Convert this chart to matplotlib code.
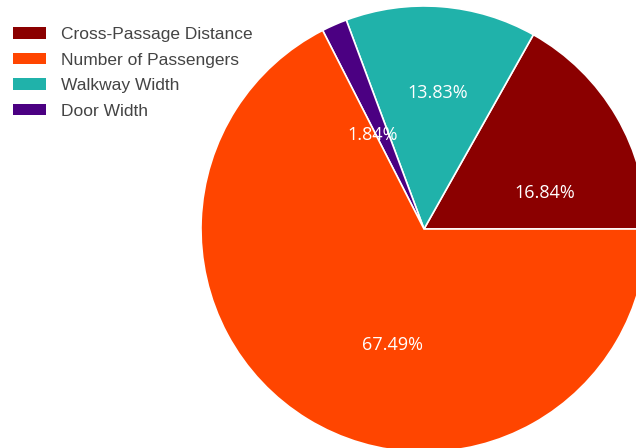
import matplotlib
matplotlib.use('Agg')
import matplotlib.pyplot as plt
from matplotlib.patches import Patch

# 数据
labels = ['Cross-Passage Distance', 'Number of Passengers', 'Walkway Width', 'Door Width']
values = [16.84, 67.49, 13.83, 1.84]
colors = ['#8B0000', '#FF4500', '#20B2AA', '#4B0082']

# 绘制顺序（逆时针，从 0° 开始）
draw_order = [0, 2, 3, 1]

fig = plt.figure(figsize=(6.36, 4.48), dpi=100)
ax = fig.add_axes([201 / 636, -4 / 448, 446 / 636, 446 / 448])

wedges, texts, autotexts = ax.pie(
    [values[i] for i in draw_order],
    colors=[colors[i] for i in draw_order],
    startangle=0, counterclock=True,
    autopct='%1.2f%%',
    wedgeprops=dict(edgecolor='white', linewidth=1.2),
    textprops=dict(color='white', fontsize=13, family='Open Sans'),
    radius=1.0,
)
ax.set_xlim(-1, 1)
ax.set_ylim(-1, 1)
ax.set_aspect('equal')

# 标签位置（半径单位）
label_pos = {0: (0.54, 0.16), 2: (0.06, 0.61), 3: (-0.23, 0.42), 1: (-0.14, -0.52)}
for t, i in zip(autotexts, draw_order):
    t.set_position(label_pos[i])
    t.set_text(f'{values[i]:.2f}%')

handles = [Patch(facecolor=c, edgecolor='none') for c in colors]
fig.legend(handles, labels, loc='upper left', bbox_to_anchor=(-4 / 636, 1 - 10 / 448),
           frameon=False, prop=dict(family='Liberation Sans', size=12.5),
           labelcolor='#444444', handlelength=1.9, handleheight=0.65,
           handletextpad=0.85, labelspacing=0.6, borderaxespad=0.6)

fig.savefig('out.png', dpi=100)
